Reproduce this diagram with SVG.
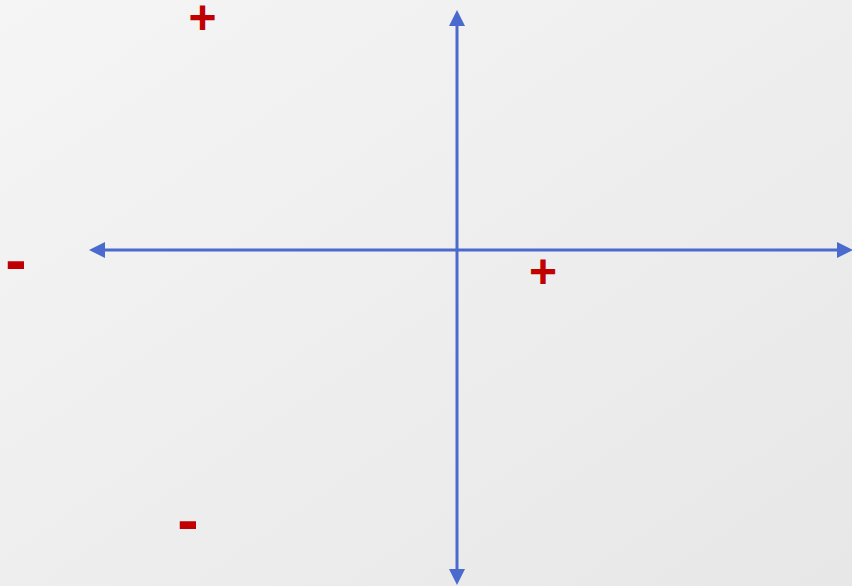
<svg xmlns="http://www.w3.org/2000/svg" width="852" height="586" viewBox="0 0 852 586">
<defs>
<linearGradient id="bg" x1="0" y1="0" x2="1" y2="1">
<stop offset="0" stop-color="#f5f5f5"/>
<stop offset="1" stop-color="#e7e7e7"/>
</linearGradient>
<marker id="ah" viewBox="0 0 16 16" refX="2" refY="8" markerWidth="16" markerHeight="16" markerUnits="userSpaceOnUse" orient="auto-start-reverse">
<path d="M0,0 L16,8 L0,16 z" fill="#4a6acd"/>
</marker>
<style>
.axis{stroke:#4a6acd;stroke-width:3;fill:none}
.sign{font-family:"Liberation Sans",Arial,sans-serif;font-weight:bold;fill:#c00000;text-anchor:middle}
</style>
</defs>
<rect width="852" height="586" fill="url(#bg)"/>
<g id="connectors">
<line class="axis" x1="457" y1="571" x2="457" y2="24" marker-start="url(#ah)" marker-end="url(#ah)"/>
<line class="axis" x1="103" y1="250" x2="839" y2="250" marker-start="url(#ah)" marker-end="url(#ah)"/>
</g>
<g id="plus-top"><text class="sign" x="202.5" y="34" font-size="48">+</text></g>
<g id="minus-left"><text class="sign" x="16" y="282" font-size="64">-</text></g>
<g id="plus-right"><text class="sign" x="543" y="288" font-size="48">+</text></g>
<g id="minus-bottom"><text class="sign" x="188" y="542" font-size="64">-</text></g>
</svg>
